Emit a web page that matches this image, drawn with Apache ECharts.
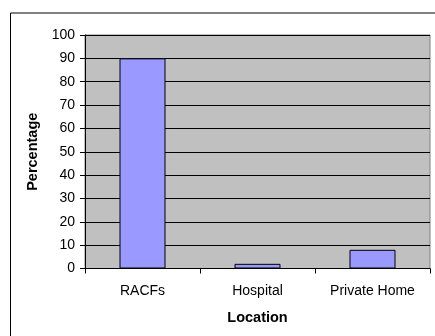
<!DOCTYPE html>
<html>
<head>
<meta charset="utf-8">
<script src="https://cdn.jsdelivr.net/npm/echarts@6/dist/echarts.min.js"></script>
<style>
  html, body { margin: 0; padding: 0; background: #fff; }
  #chart { width: 435px; height: 336px; }
</style>
</head>
<body>
<div id="chart"></div>
<script>
// Place of death by location
const categories = ['RACFs', 'Hospital', 'Private Home'];
const percentages = [90, 2, 8];
const yTickMin = 0;
const yTickMax = 100;
const yTickStep = 10;

const font = '"Liberation Sans", Arial, sans-serif';
const chart = echarts.init(document.getElementById('chart'), null, { renderer: 'canvas' });

chart.setOption({
  animation: false,
  backgroundColor: '#ffffff',
  textStyle: { fontFamily: font },
  graphic: [{
    type: 'rect',
    left: 8, top: 10.5,
    shape: { x: 0, y: 0, width: 520, height: 400 },
    style: { fill: 'none', stroke: '#000', lineWidth: 1 },
    silent: true,
    z: -1
  }],
  grid: {
    left: 85, top: 35, right: 5, bottom: 67.5,
    show: true,
    backgroundColor: '#C0C0C0',
    borderColor: '#808080',
    borderWidth: 1
  },
  xAxis: {
    type: 'category',
    data: categories,
    boundaryGap: true,
    name: 'Location',
    nameLocation: 'middle',
    nameGap: 42,
    nameTextStyle: { fontFamily: font, fontSize: 14.5, fontWeight: 'bold', color: '#000' },
    axisLine: { lineStyle: { color: '#000', width: 1 } },
    axisTick: { show: true, length: 5, inside: false, lineStyle: { color: '#000' } },
    axisLabel: { fontFamily: font, fontSize: 14, color: '#000', margin: 16 },
    splitLine: { show: false }
  },
  yAxis: {
    type: 'value',
    min: yTickMin,
    max: yTickMax,
    interval: yTickStep,
    name: 'Percentage',
    nameLocation: 'middle',
    nameGap: 44,
    nameTextStyle: { fontFamily: font, fontSize: 14.5, fontWeight: 'bold', color: '#000' },
    axisLine: { show: true, lineStyle: { color: '#000', width: 1 } },
    axisTick: { show: true, length: 5, lineStyle: { color: '#000' } },
    axisLabel: { fontFamily: font, fontSize: 14, color: '#000', margin: 10 },
    splitLine: { show: true, lineStyle: { color: '#000', width: 1 } }
  },
  series: [{
    type: 'bar',
    data: percentages,
    barWidth: '40%',
    itemStyle: { color: '#9999FF', borderColor: '#000', borderWidth: 1 }
  }]
});
</script>
</body>
</html>
